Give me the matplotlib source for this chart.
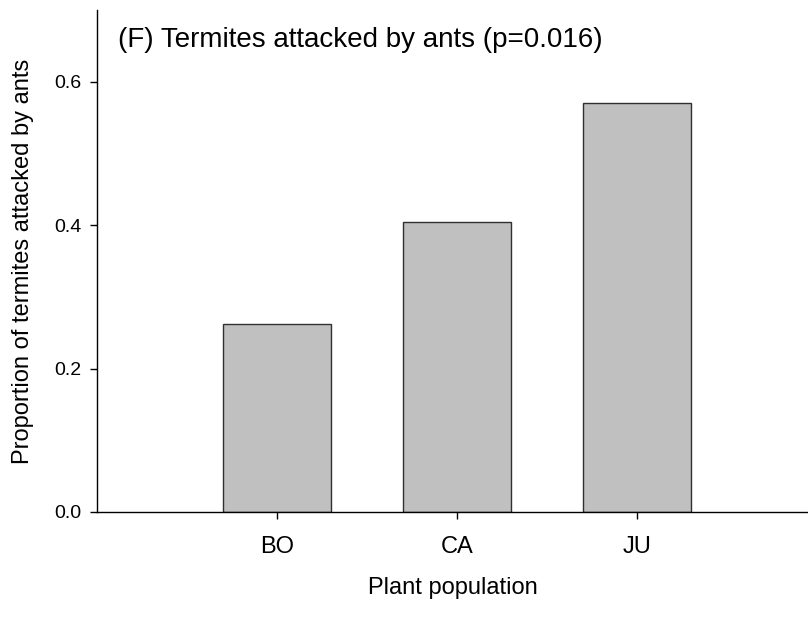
import matplotlib.pyplot as plt

plt.rcParams['font.family'] = ['Liberation Sans', 'DejaVu Sans']

populations = ['BO', 'CA', 'JU']
proportions = [0.262, 0.404, 0.570]
y_ticks = [0.0, 0.2, 0.4, 0.6]

fig = plt.figure(figsize=(8.08, 6.17), dpi=100)
ax = fig.add_axes([97 / 808, 1 - 512 / 617, 1 - 97 / 808, 502 / 617])

positions = range(1, len(populations) + 1)
ax.bar(positions, proportions, width=0.6, color='#c0c0c0',
       edgecolor='#303030', linewidth=1.0)

ax.set_xlim(0, 3.95)
ax.set_ylim(0, 0.7)
ax.set_xticks(list(positions))
ax.set_xticklabels(populations, fontsize=17)
ax.set_yticks(y_ticks)
ax.set_yticklabels([f'{v:.1f}' for v in y_ticks], fontsize=14)

ax.spines['top'].set_visible(False)
ax.spines['right'].set_visible(False)
for side in ('left', 'bottom'):
    ax.spines[side].set_linewidth(1.0)
    ax.spines[side].set_color('black')
ax.tick_params(axis='y', direction='out', length=5, width=1.0, pad=6)
ax.tick_params(axis='x', direction='out', length=5, width=1.0, pad=12)

ax.set_xlabel('Plant population', fontsize=17, labelpad=14)
ax.set_ylabel('Proportion of termites attacked by ants', fontsize=17, labelpad=15)
ax.text(0.03, 0.926, '(F) Termites attacked by ants (p=0.016)',
        transform=ax.transAxes, fontsize=20, va='baseline', ha='left')

fig.savefig('out.png', dpi=100)
